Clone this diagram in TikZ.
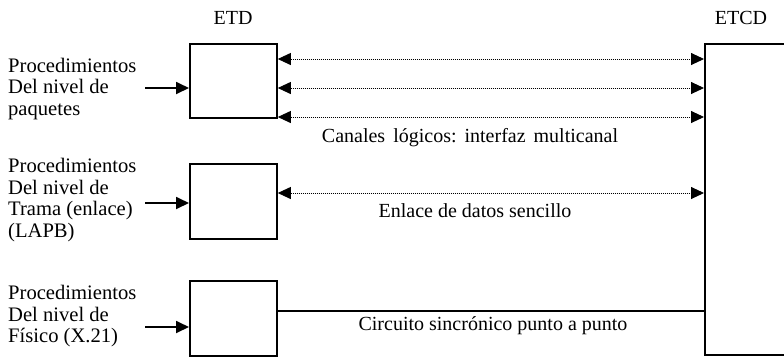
\documentclass[tikz,border=0pt]{standalone}
\usepackage{fontspec}
\setmainfont{Liberation Serif}
\usetikzlibrary{arrows.meta}
\begin{document}
\begin{tikzpicture}[x=1pt,y=-1pt,
  txt/.style={font=\fontsize{20}{21.5}\selectfont, inner sep=0pt},
  sidetext/.style={font=\fontsize{20.6}{21.5}\selectfont, inner sep=0pt, align=left, anchor=north west},
  blk/.style={draw, line width=1.8pt, inner sep=0pt, anchor=north west},
  dotarrow/.style={{Triangle[length=13pt,width=12pt]}-{Triangle[length=13pt,width=12pt]}, line width=0.9pt, dash pattern=on 1pt off 1pt},
  solidarrow/.style={-{Triangle[length=13pt,width=12pt]}, line width=1.8pt},
  solidline/.style={line width=1.8pt}
]
\useasboundingbox (0,0) rectangle (784,360);
\clip (0,0) rectangle (784,360);

% titles
\node[txt] (etd) at (233,18) {ETD};
\node[txt] (etcdl) at (741,18) {ETCD};

% boxes
\node[blk, minimum width=87pt, minimum height=74pt] (b1) at (189,43) {};
\node[blk, minimum width=87pt, minimum height=75pt] (b2) at (189,163) {};
\node[blk, minimum width=87pt, minimum height=75pt] (b3) at (189,280) {};
\node[blk, minimum width=130pt, minimum height=311pt] (etcd) at (704,43) {};

% side texts
\node[sidetext] (p1) at (8,58) {Procedimientos\\Del nivel de\\paquetes};
\node[sidetext] (p2) at (8,158) {Procedimientos\\Del nivel de\\Trama (enlace)\\(LAPB)};
\node[sidetext] (p3) at (8,285) {Procedimientos\\Del nivel de\\Físico (X.21)};

% input arrows
\coordinate (t1) at (145,88);
\coordinate (t2) at (145,203);
\coordinate (t3) at (145,327);
\draw[solidarrow] (t1) -- (t1 -| b1.west);
\draw[solidarrow] (t2) -- (t2 -| b2.west);
\draw[solidarrow] (t3) -- (t3 -| b3.west);

% channels
\coordinate (r1) at (0,59);
\coordinate (r2) at (0,88);
\coordinate (r3) at (0,117);
\coordinate (r4) at (0,193);
\coordinate (r5) at (0,311);
\draw[dotarrow] (b1.east |- r1) -- (etcd.west |- r1);
\draw[dotarrow] (b1.east |- r2) -- (etcd.west |- r2);
\draw[dotarrow] (b1.east |- r3) -- (etcd.west |- r3);
\draw[dotarrow] (b2.east |- r4) -- (etcd.west |- r4);
\draw[solidline] (b3.east |- r5) -- (etcd.west |- r5);

% labels
\node[txt] (l1) at (470,138) {Canales\hspace{8pt}lógicos:\hspace{8pt}interfaz\hspace{8pt}multicanal};
\node[txt] (l2) at (475,211) {Enlace de datos sencillo};
\node[txt] (l3) at (493,326) {Circuito sincrónico punto a punto};
\end{tikzpicture}
\end{document}
